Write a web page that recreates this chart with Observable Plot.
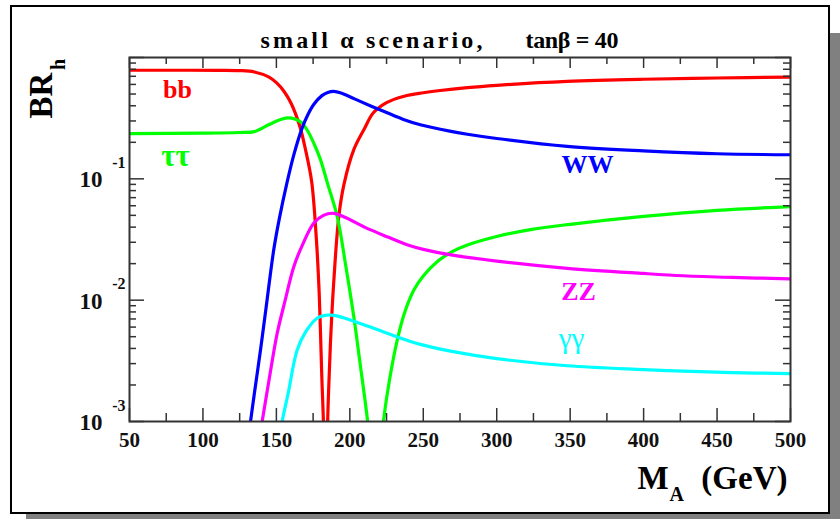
<!DOCTYPE html>
<html><head><meta charset="utf-8">
<script src="https://cdn.jsdelivr.net/npm/d3@7"></script>
<script src="https://cdn.jsdelivr.net/npm/@observablehq/plot@0.6"></script>
<style>
html,body{margin:0;padding:0;background:#fff;}
body{width:840px;height:519px;overflow:hidden;position:relative;}
#frame{position:absolute;left:10px;top:5px;width:816px;height:505px;border:2px solid #000;background:#fff;box-shadow:16px 28px 0 #808080;}
#chart{position:absolute;left:0;top:0;}
</style></head><body><div id="frame"></div><div id="chart"></div>
<script>
// ---- data (M_A in GeV, branching ratio of h) ----
const mBB  = [50, 80, 110, 125, 135, 145, 150, 155, 160, 166, 170, 174, 177, 179, 181, 182, 183.5, 184.9, 185.7, 187, 189, 192.5, 196, 202.7, 210, 216, 225, 237, 250, 260, 280, 300, 348, 400, 450, 500];
const brBB = [0.785, 0.785, 0.784, 0.78, 0.76, 0.69, 0.62, 0.53, 0.42, 0.27, 0.17, 0.095, 0.035, 0.0125, 0.0022, 0.001, 0.0001, 0.001, 0.002, 0.005, 0.0138, 0.049, 0.09, 0.174, 0.26, 0.35, 0.425, 0.48, 0.512, 0.532, 0.565, 0.59, 0.635, 0.662, 0.678, 0.69];

const mTT  = [50, 100, 125, 135, 145, 152, 157.4, 163, 167.5, 172, 176, 180, 185, 191.4, 197, 202.7, 207, 211.8, 214.5, 217, 220.5, 223.2, 227, 232.3, 237, 243.6, 250, 260, 270, 280, 300, 325, 350, 400, 450, 500];
const brTT = [0.236, 0.238, 0.241, 0.245, 0.28, 0.305, 0.318, 0.31, 0.288, 0.24, 0.19, 0.144, 0.09, 0.049, 0.02, 0.0073, 0.003, 0.00108, 0.0005, 0.0001, 0.0005, 0.00108, 0.0022, 0.0047, 0.0077, 0.0121, 0.0158, 0.0210, 0.0252, 0.0285, 0.0335, 0.0385, 0.0422, 0.049, 0.055, 0.059];

const mWW  = [130, 132.4, 135, 139.2, 143, 148.2, 152, 157.3, 162, 167.5, 171, 175.4, 181, 185, 189, 194, 200, 207, 215, 225.4, 236, 248, 268, 280, 300, 348, 400, 450, 500];
const brWW = [0.0006, 0.001, 0.0017, 0.0039, 0.0087, 0.026, 0.047, 0.094, 0.16, 0.262, 0.33, 0.41, 0.485, 0.515, 0.525, 0.51, 0.475, 0.435, 0.395, 0.35, 0.31, 0.279, 0.247, 0.233, 0.215, 0.185, 0.170, 0.161, 0.158];

const mZZ  = [137.5, 140.3, 145, 150.5, 156, 161.8, 168, 175.4, 182, 189, 197, 210, 225.4, 240, 250, 268, 300, 348, 400, 427, 460, 500];
const brZZ = [0.0006, 0.001, 0.0022, 0.0053, 0.0100, 0.0188, 0.029, 0.043, 0.050, 0.052, 0.048, 0.040, 0.0333, 0.0283, 0.0262, 0.0237, 0.0210, 0.0183, 0.0166, 0.0159, 0.0154, 0.015];

const mGG  = [151, 153.9, 158, 164.1, 170, 177.7, 183, 189, 195, 214, 230, 248, 268.5, 300, 348, 400, 427, 460, 500];
const brGG = [0.0006, 0.001, 0.0017, 0.00386, 0.0055, 0.0071, 0.0075, 0.0075, 0.0072, 0.0060, 0.0051, 0.00432, 0.0038, 0.0033, 0.00288, 0.00268, 0.0026, 0.00253, 0.00248];

const seriesNames  = ["bb", "ττ", "WW", "ZZ", "γγ"];
const seriesColors = ["#ff0000", "#00ff00", "#0000ff", "#ff00ff", "#00ffff"];
const seriesM  = [mBB, mTT, mWW, mZZ, mGG];
const seriesBR = [brBB, brTT, brWW, brZZ, brGG];
// label anchor positions (data space)
const labelM  = [82.7, 81.3, 361.8, 355.7, 350.9];
const labelBR = [0.545, 0.155, 0.1306, 0.01186, 0.0048];

const xMajor = [50, 100, 150, 200, 250, 300, 350, 400, 450, 500];
const xMinor = [75, 125, 175, 225, 275, 325, 375, 425, 475];
const yMajor = [1e-3, 1e-2, 1e-1, 1];
const yLabeled = [1e-3, 1e-2, 1e-1];
const yExponents = ["-3", "-2", "-1"];
const yMinor = [1e-3, 1e-2, 1e-1].flatMap(d => [2,3,4,5,6,7,8,9].map(k => k * d));

const titleLeft = "small α scenario,";
const titleRight = "tanβ = 40";

// ---- layout ----
const W = 840, H = 519, ML = 129, MR = 50, MT = 57, MB = 98;
const FW = W - ML - MR, FH = H - MT - MB;
const FONT = "Liberation Serif";
const tickStroke = "#333";

const marks = [];
seriesNames.forEach((name, i) => {
  const rows = seriesM[i].map((m, j) => ({m, br: seriesBR[i][j]}));
  marks.push(Plot.line(rows, {x: "m", y: "br", stroke: seriesColors[i], strokeWidth: 3.2, curve: "catmull-rom", clip: true}));
});

// ticks (inward, all four sides)
marks.push(
  Plot.tickX(xMajor, {x: d => d, insetTop: FH - 13, stroke: tickStroke, strokeWidth: 1.5}),
  Plot.tickX(xMinor, {x: d => d, insetTop: FH - 8, stroke: tickStroke, strokeWidth: 1.5}),
  Plot.tickX(xMajor, {x: d => d, insetBottom: FH - 11, stroke: tickStroke, strokeWidth: 1.5}),
  Plot.tickX(xMinor, {x: d => d, insetBottom: FH - 7, stroke: tickStroke, strokeWidth: 1.5}),
  Plot.tickY(yMajor, {y: d => d, insetRight: FW - 15, stroke: tickStroke, strokeWidth: 1.5}),
  Plot.tickY(yMinor, {y: d => d, insetRight: FW - 7, stroke: tickStroke, strokeWidth: 1.5}),
  Plot.tickY(yMajor, {y: d => d, insetLeft: FW - 15, stroke: tickStroke, strokeWidth: 1.5}),
  Plot.tickY(yMinor, {y: d => d, insetLeft: FW - 7, stroke: tickStroke, strokeWidth: 1.5}),
  Plot.frame({stroke: tickStroke, strokeWidth: 2})
);

// tick labels
marks.push(
  Plot.text(xMajor, {x: d => d, text: d => String(d), frameAnchor: "bottom", dy: 19, lineAnchor: "middle",
    fontFamily: FONT, fontSize: 21, fontWeight: "bold", fill: "#111"}),
  Plot.text(yLabeled, {y: d => d, text: () => "10", frameAnchor: "left", dx: -27, dy: 1, textAnchor: "end", lineAnchor: "middle",
    fontFamily: FONT, fontSize: 23, fontWeight: "bold", fill: "#111"}),
  Plot.text(yLabeled, {y: d => d, text: (d, i) => yExponents[i], frameAnchor: "left", dx: -4, dy: -16, textAnchor: "end", lineAnchor: "middle",
    fontFamily: FONT, fontSize: 16, fontWeight: "bold", fill: "#111"})
);

// curve labels
seriesNames.forEach((name, i) => {
  marks.push(Plot.text([name], {x: () => labelM[i], y: () => labelBR[i], text: d => d, textAnchor: "middle", lineAnchor: "middle",
    fill: seriesColors[i], fontFamily: FONT,
    fontSize: name === "ττ" ? 31 : name === "γγ" ? 29 : 26,
    fontWeight: name === "γγ" ? "normal" : "bold"}));
});

// title and axis titles
marks.push(
  Plot.text([titleLeft], {frameAnchor: "top-left", dx: 131, dy: -17, textAnchor: "start", lineAnchor: "middle",
    fontFamily: FONT, fontSize: 24, fontWeight: "bold", fill: "#000"}),
  Plot.text([titleRight], {frameAnchor: "top-left", dx: 396, dy: -17, textAnchor: "start", lineAnchor: "middle",
    fontFamily: FONT, fontSize: 24, fontWeight: "bold", fill: "#000"}),
  Plot.text(["BR"], {frameAnchor: "top-left", dx: -88, dy: 38, rotate: -90, textAnchor: "middle", lineAnchor: "middle",
    fontFamily: FONT, fontSize: 33, fontWeight: "bold", fill: "#000"}),
  Plot.text(["h"], {frameAnchor: "top-left", dx: -71, dy: 7, rotate: -90, textAnchor: "middle", lineAnchor: "middle",
    fontFamily: FONT, fontSize: 20, fontWeight: "bold", fill: "#000"}),
  Plot.text(["M"], {frameAnchor: "bottom-left", dx: 508, dy: 57, textAnchor: "start", lineAnchor: "middle",
    fontFamily: FONT, fontSize: 33, fontWeight: "bold", fill: "#000"}),
  Plot.text(["A"], {frameAnchor: "bottom-left", dx: 540, dy: 73, textAnchor: "start", lineAnchor: "middle",
    fontFamily: FONT, fontSize: 20, fontWeight: "bold", fill: "#000"}),
  Plot.text(["(GeV)"], {frameAnchor: "bottom-right", dx: -3, dy: 57, textAnchor: "end", lineAnchor: "middle",
    fontFamily: FONT, fontSize: 33, fontWeight: "bold", fill: "#000"})
);

const chart = Plot.plot({
  width: W, height: H,
  marginLeft: ML, marginRight: MR, marginTop: MT, marginBottom: MB,
  x: {domain: [50, 500], axis: null},
  y: {type: "log", domain: [1e-3, 1], axis: null},
  style: {background: "transparent", overflow: "visible", fontFamily: FONT},
  marks
});
// stretch the title pieces to the widths they have in the original figure
chart.querySelectorAll("text").forEach(t => {
  if (t.textContent === titleLeft) { t.setAttribute("textLength", 222); t.setAttribute("lengthAdjust", "spacing"); }
  if (t.textContent === titleRight) { t.setAttribute("textLength", 93); t.setAttribute("lengthAdjust", "spacing"); }
});
document.getElementById("chart").appendChild(chart);
</script>
</body></html>
